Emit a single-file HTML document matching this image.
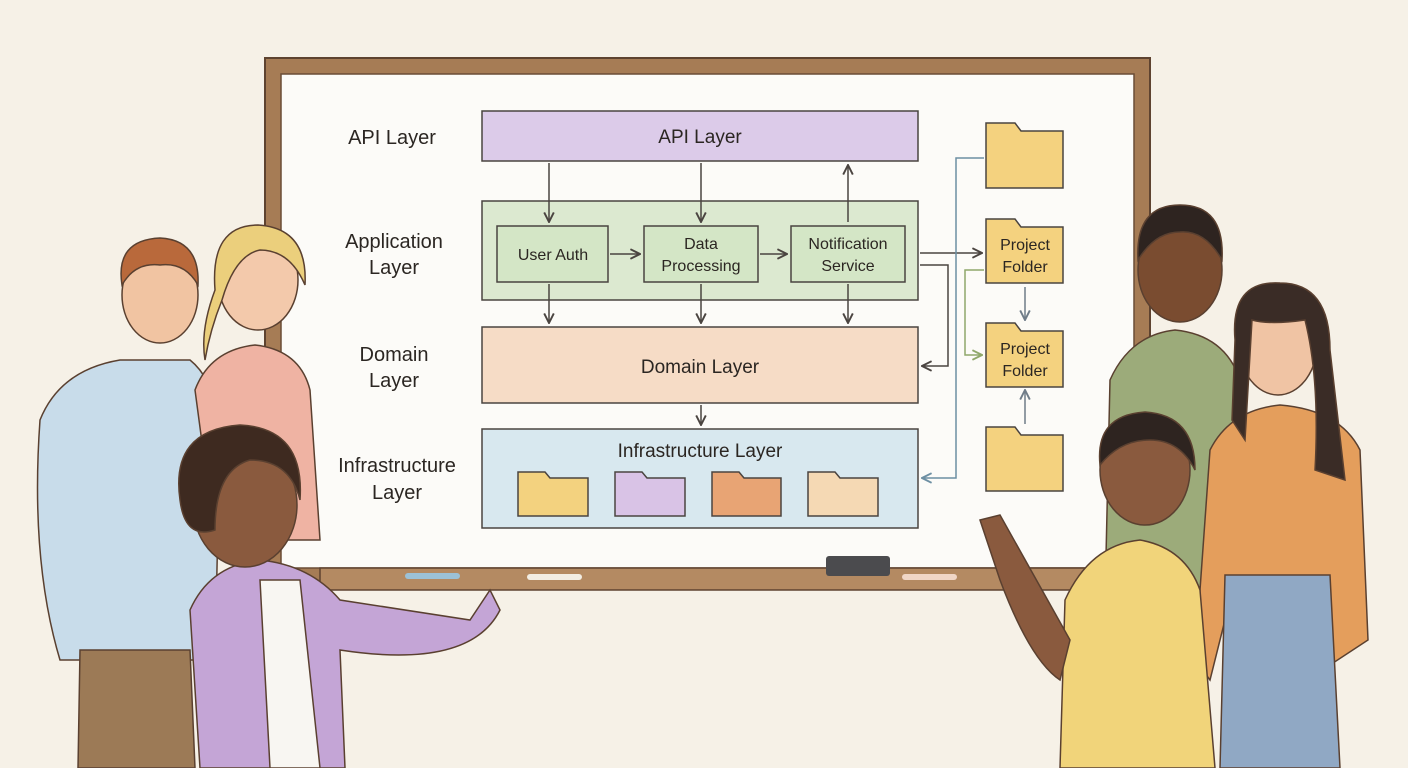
<!DOCTYPE html>
<html><head><meta charset="utf-8"><style>
html,body{margin:0;padding:0;background:#f6f1e7;}
svg{display:block}
text{font-family:"Liberation Sans",sans-serif;fill:#2b2622}
</style></head><body>
<svg width="1408" height="768" viewBox="0 0 1408 768" xmlns="http://www.w3.org/2000/svg">
<defs>
<marker id="a" viewBox="0 0 10 10" refX="9" refY="5" markerWidth="8" markerHeight="8" orient="auto-start-reverse"><path d="M1,1 L9,5 L1,9" fill="none" stroke="context-stroke" stroke-width="1.6"/></marker>
<marker id="ad" viewBox="0 0 10 10" refX="9" refY="5" markerWidth="8" markerHeight="8" orient="auto"><path d="M1,1 L9,5 L1,9" fill="none" stroke="#4a4440" stroke-width="1.6"/></marker>
<marker id="ab" viewBox="0 0 10 10" refX="9" refY="5" markerWidth="8" markerHeight="8" orient="auto"><path d="M1,1 L9,5 L1,9" fill="none" stroke="#6d8fa3" stroke-width="1.6"/></marker>
<marker id="ag" viewBox="0 0 10 10" refX="9" refY="5" markerWidth="8" markerHeight="8" orient="auto"><path d="M1,1 L9,5 L1,9" fill="none" stroke="#8fa86a" stroke-width="1.6"/></marker>
<marker id="ag2" viewBox="0 0 10 10" refX="9" refY="5" markerWidth="8" markerHeight="8" orient="auto"><path d="M1,1 L9,5 L1,9" fill="none" stroke="#6f7c88" stroke-width="1.6"/></marker>
</defs>
<rect width="1408" height="768" fill="#f6f1e7"/>
<!-- whiteboard -->
<rect x="265" y="58" width="885" height="530" fill="#a67c55" stroke="#5e4330" stroke-width="2"/>
<rect x="281" y="74" width="853" height="494" fill="#fcfbf8" stroke="#6a4c36" stroke-width="1.5"/>
<rect x="320" y="568" width="780" height="22" fill="#b48a62" stroke="#5e4330" stroke-width="1.5"/>
<rect x="826" y="556" width="64" height="20" rx="3" fill="#4b4b4e"/>
<rect x="405" y="573" width="55" height="6" rx="3" fill="#9cc1d6"/>
<rect x="527" y="574" width="55" height="6" rx="3" fill="#f2ede3"/>
<rect x="902" y="574" width="55" height="6" rx="3" fill="#f0d6c6"/>
<!-- left labels -->
<g font-size="20" text-anchor="middle">
<text x="392" y="144">API Layer</text>
<text x="394" y="248">Application</text><text x="394" y="274">Layer</text>
<text x="394" y="361">Domain</text><text x="394" y="387">Layer</text>
<text x="397" y="472">Infrastructure</text><text x="397" y="499">Layer</text>
</g>
<!-- layers -->
<rect x="482" y="111" width="436" height="50" fill="#dccbe9" stroke="#4a4440" stroke-width="1.5"/>
<text x="700" y="143" font-size="19" text-anchor="middle">API Layer</text>
<rect x="482" y="201" width="436" height="99" fill="#dce9d0" stroke="#4a4440" stroke-width="1.5"/>
<rect x="497" y="226" width="111" height="56" fill="#d4e6c6" stroke="#4a4440" stroke-width="1.5"/>
<rect x="644" y="226" width="114" height="56" fill="#d4e6c6" stroke="#4a4440" stroke-width="1.5"/>
<rect x="791" y="226" width="114" height="56" fill="#d4e6c6" stroke="#4a4440" stroke-width="1.5"/>
<g font-size="16" text-anchor="middle">
<text x="553" y="260">User Auth</text>
<text x="701" y="249">Data</text><text x="701" y="271">Processing</text>
<text x="848" y="249">Notification</text><text x="848" y="271">Service</text>
</g>
<rect x="482" y="327" width="436" height="76" fill="#f6dcc6" stroke="#4a4440" stroke-width="1.5"/>
<text x="700" y="373" font-size="19" text-anchor="middle">Domain Layer</text>
<rect x="482" y="429" width="436" height="99" fill="#d8e8ef" stroke="#4a4440" stroke-width="1.5"/>
<text x="700" y="457" font-size="19" text-anchor="middle">Infrastructure Layer</text>
<g stroke="#4a4440" stroke-width="1.5">
<path d="M518,516 V472 H545 L550,478 H588 V516 Z" fill="#f3d27f"/>
<path d="M615,516 V472 H642 L647,478 H685 V516 Z" fill="#d9c3e6"/>
<path d="M712,516 V472 H739 L744,478 H781 V516 Z" fill="#e8a474"/>
<path d="M808,516 V472 H835 L840,478 H878 V516 Z" fill="#f5d9b4"/>
</g>
<!-- arrows -->
<g stroke="#4a4440" stroke-width="1.5" fill="none">
<path d="M549,163 V222" marker-end="url(#ad)"/>
<path d="M701,163 V222" marker-end="url(#ad)"/>
<path d="M848,222 V165" marker-end="url(#ad)"/>
<path d="M610,254 H640" marker-end="url(#ad)"/>
<path d="M760,254 H787" marker-end="url(#ad)"/>
<path d="M549,284 V323" marker-end="url(#ad)"/>
<path d="M701,284 V323" marker-end="url(#ad)"/>
<path d="M848,284 V323" marker-end="url(#ad)"/>
<path d="M701,405 V425" marker-end="url(#ad)"/>
<path d="M920,253 H982" marker-end="url(#ad)"/>
<path d="M920,265 H948 V366 H922" marker-end="url(#ad)"/>
</g>
<path d="M984,158 H956 V478 H922" stroke="#6d8fa3" stroke-width="1.5" fill="none" marker-end="url(#ab)"/>
<path d="M984,270 H965 V355 H982" stroke="#8fa86a" stroke-width="1.5" fill="none" marker-end="url(#ag)"/>
<path d="M1025,287 V320" stroke="#6f7c88" stroke-width="1.5" fill="none" marker-end="url(#ag2)"/>
<path d="M1025,424 V390" stroke="#6f7c88" stroke-width="1.5" fill="none" marker-end="url(#ag2)"/>
<!-- right folders -->
<g stroke="#4a4440" stroke-width="1.5" fill="#f4d27f">
<path d="M986,188 V123 H1015 L1021,131 H1063 V188 Z"/>
<path d="M986,283 V219 H1015 L1021,227 H1063 V283 Z"/>
<path d="M986,387 V323 H1015 L1021,331 H1063 V387 Z"/>
<path d="M986,491 V427 H1015 L1021,435 H1063 V491 Z"/>
</g>
<g font-size="16" text-anchor="middle">
<text x="1025" y="250">Project</text><text x="1025" y="272">Folder</text>
<text x="1025" y="354">Project</text><text x="1025" y="376">Folder</text>
</g>
<!-- people: left -->
<g stroke="#5a4030" stroke-width="1.5">
<!-- man blue -->
<path d="M40,420 Q60,370 120,360 L190,360 Q215,380 220,430 L215,660 L60,660 Q30,560 40,420Z" fill="#c8dcea"/>
<path d="M80,650 H190 L195,768 H78Z" fill="#9c7a56"/>
<ellipse cx="160" cy="295" rx="38" ry="48" fill="#f1c4a2"/>
<path d="M122,285 Q115,240 160,238 Q200,240 198,285 Q185,262 160,265 Q135,262 122,285Z" fill="#b9693b"/>
<!-- woman pink -->
<path d="M195,390 Q210,350 255,345 Q300,350 310,390 L320,540 L215,540Z" fill="#ef b0a0" style="fill:#efb3a3"/>
<ellipse cx="258" cy="280" rx="40" ry="50" fill="#f3c9ab"/>
<path d="M215,290 Q210,225 258,225 Q308,228 305,285 Q290,250 260,250 Q235,255 222,300 Q210,330 205,360 Q200,330 215,290Z" fill="#ebcf7c"/>
<!-- woman purple -->
<path d="M190,610 Q210,565 260,560 Q310,565 340,600 L470,620 L490,590 L500,610 Q470,670 340,650 L345,768 H200Z" fill="#c4a5d6"/>
<path d="M260,580 L300,580 L320,768 H270Z" fill="#f8f6f2"/>
<ellipse cx="245" cy="505" rx="52" ry="62" fill="#8a5a3e"/>
<path d="M180,500 Q170,430 240,425 Q305,428 300,500 Q290,460 250,460 Q215,470 215,530 Q185,540 180,500Z" fill="#3e2a20"/>
<!-- right: man green -->
<path d="M1110,380 Q1130,335 1175,330 Q1225,335 1240,380 L1245,600 L1105,600Z" fill="#9cab7a"/>
<ellipse cx="1180" cy="270" rx="42" ry="52" fill="#7a4c30"/>
<path d="M1138,260 Q1135,205 1180,205 Q1225,205 1222,260 Q1205,230 1180,232 Q1155,232 1138,260Z" fill="#2e2420"/>
<!-- woman orange -->
<path d="M1210,450 Q1230,410 1280,405 Q1340,410 1360,450 L1368,640 L1330,665 L1320,580 L1235,580 L1210,680 L1195,660Z" fill="#e49e5c"/>
<path d="M1225,575 H1330 L1340,768 H1220Z" fill="#90a8c4"/>
<ellipse cx="1278" cy="340" rx="40" ry="55" fill="#f0c4a4"/>
<path d="M1235,340 Q1230,280 1280,283 Q1330,283 1330,350 L1345,480 L1315,470 Q1320,380 1305,320 Q1270,325 1252,320 L1245,440 L1232,420Z" fill="#3a2c26"/>
<!-- man yellow -->
<path d="M1065,600 Q1090,545 1140,540 Q1185,548 1200,590 L1215,768 H1060Z" fill="#f1d47a"/>
<path d="M980,520 L1000,515 L1070,640 L1060,680 Q1030,660 1000,580Z" fill="#8a5a3e"/>
<ellipse cx="1145" cy="470" rx="45" ry="55" fill="#8a5a3e"/>
<path d="M1100,465 Q1095,415 1145,412 Q1195,415 1195,470 Q1180,440 1150,440 Q1120,440 1100,465Z" fill="#2e2420"/>
</g>
</svg>
</body></html>
